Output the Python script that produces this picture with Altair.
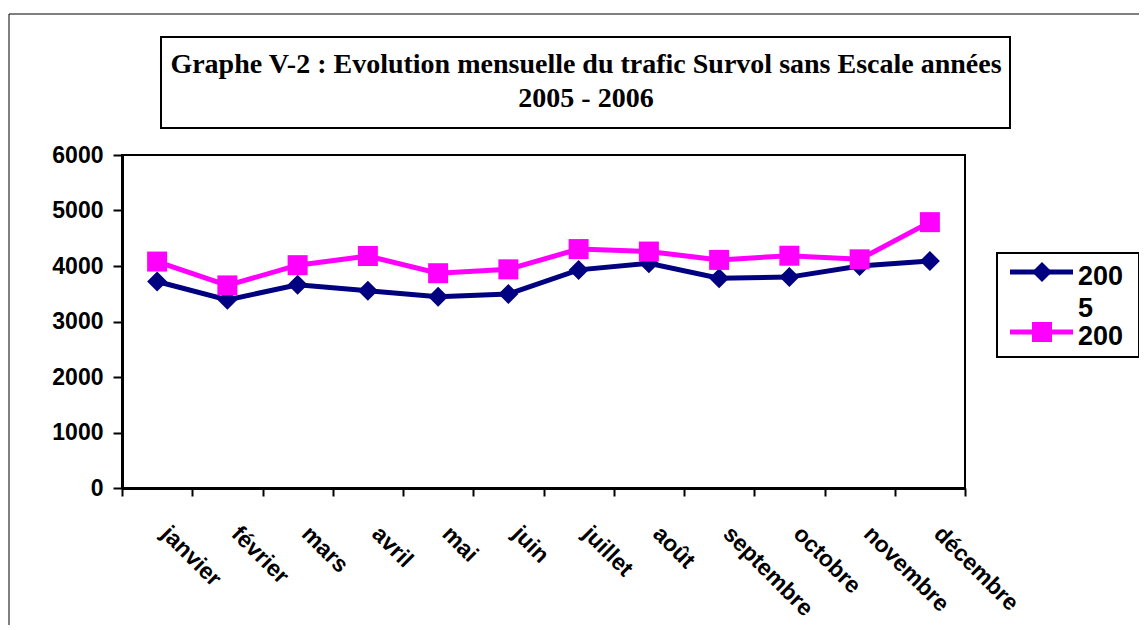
import altair as alt
import pandas as pd

months = ["janvier", "février", "mars", "avril", "mai", "juin", "juillet",
          "août", "septembre", "octobre", "novembre", "décembre"]
v2005 = [3720, 3390, 3660, 3555, 3445, 3495, 3930, 4050, 3780, 3800, 4000, 4090]
v2006 = [4080, 3650, 4015, 4180, 3870, 3940, 4305, 4260, 4110, 4185, 4120, 4790]
series = ["2005", "2006"]
colors = ["#000080", "#FF00FF"]
shapes = ["diamond", "square"]
y_ticks = [0, 1000, 2000, 3000, 4000, 5000, 6000]
title_lines = ["Graphe V-2 : Evolution mensuelle du trafic Survol sans Escale années",
               "2005 - 2006"]

rows = []
for m, a, b in zip(months, v2005, v2006):
    rows.append({"mois": m, "annee": "2005", "valeur": a})
    rows.append({"mois": m, "annee": "2006", "valeur": b})
df = pd.DataFrame(rows)

W, H = 843, 333
SANS = "Liberation Sans"
SERIF = "Liberation Serif"

x_enc = alt.X("mois:N", sort=months, title=None,
              scale=alt.Scale(paddingInner=0, paddingOuter=0),
              axis=alt.Axis(labelAngle=45, labelAlign="left", labelBaseline="top",
                            labelFont=SANS, labelFontWeight="bold", labelFontSize=23,
                            labelColor="black", labelPadding=26, labelOffset=15,
                            tickBand="extent", tickSize=8, tickWidth=2, tickColor="black",
                            domainColor="black", domainWidth=3, grid=False,
                            labelOverlap=False, labelLimit=300))
y_enc = alt.Y("valeur:Q", title=None,
              scale=alt.Scale(domain=[0, 6000], nice=False),
              axis=alt.Axis(values=y_ticks, format="d", labelFont=SANS, labelFontWeight="bold",
                            labelFontSize=23, labelColor="black", labelPadding=10,
                            tickSize=9, tickWidth=2, tickColor="black",
                            domainColor="black", domainWidth=3, grid=False))
color_enc = alt.Color("annee:N", scale=alt.Scale(domain=series, range=colors), legend=None)
shape_enc = alt.Shape("annee:N", scale=alt.Scale(domain=series, range=shapes), legend=None)

lines = alt.Chart(df).mark_line(strokeWidth=5).encode(x=x_enc, y=y_enc, color=color_enc)
pts = alt.Chart(df).mark_point(filled=True, opacity=1, size=400).encode(
    x=x_enc, y=y_enc, color=color_enc, shape=shape_enc)

one = pd.DataFrame({"k": [0]})
base = alt.Chart(one)

outer = base.mark_rect(fill=None, stroke="black", strokeWidth=1).encode(
    x=alt.value(-113), x2=alt.value(1040), y=alt.value(-141), y2=alt.value(500))
tbox = base.mark_rect(fill="white", stroke="black", strokeWidth=2).encode(
    x=alt.value(39), x2=alt.value(888), y=alt.value(-118), y2=alt.value(-27))
ttext = base.mark_text(font=SERIF, fontWeight="bold", fontSize=28, align="center",
                       baseline="alphabetic", lineHeight=34, color="black").encode(
    x=alt.value(464), y=alt.value(-82), text=alt.value(title_lines))

lbox = base.mark_rect(fill="white", stroke="black", strokeWidth=2).encode(
    x=alt.value(875), x2=alt.value(1017), y=alt.value(98), y2=alt.value(202))
leg_layers = [outer, tbox, ttext, lbox]
leg_y = [117, 177]
leg_text = [["200", "5"], ["200"]]
for s, c, sh, yy, tx in zip(series, colors, shapes, leg_y, leg_text):
    leg_layers.append(base.mark_rule(color=c, strokeWidth=5).encode(
        x=alt.value(888), x2=alt.value(951), y=alt.value(yy)))
    leg_layers.append(base.mark_point(filled=True, opacity=1, size=400, shape=sh, color=c).encode(
        x=alt.value(920), y=alt.value(yy)))
    leg_layers.append(base.mark_text(font=SANS, fontWeight="bold", fontSize=27, align="left",
                                     baseline="alphabetic", lineHeight=32, color="black").encode(
        x=alt.value(956), y=alt.value(yy + 13), text=alt.value(tx)))

chart = alt.layer(*leg_layers, lines, pts).properties(
    width=W, height=H,
    padding={"left": 114, "top": 147, "right": 174, "bottom": 137},
    autosize=alt.AutoSizeParams(type="none"),
).configure(background="white").configure_view(stroke="black", strokeWidth=2)

chart.save("out.html", embed_options={"renderer": "svg", "actions": False})
